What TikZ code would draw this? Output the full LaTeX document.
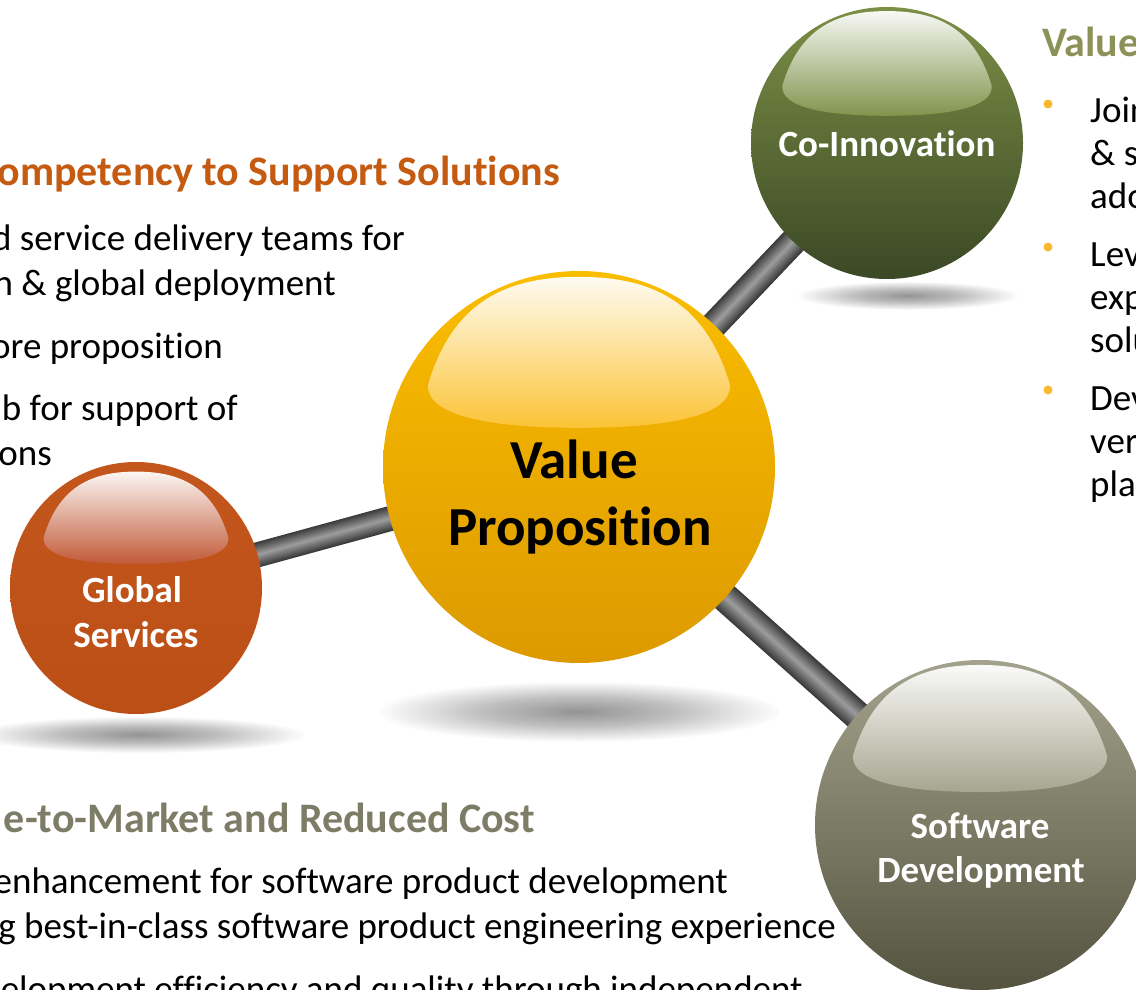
\documentclass[tikz,border=0pt]{standalone}
\usepackage{fontspec}
\setmainfont{Carlito}[Ligatures=NoCommon]
\definecolor{vpTop}{HTML}{FABD00}
\definecolor{vpBot}{HTML}{DC9A00}
\definecolor{vpHl}{HTML}{FDC53A}
\definecolor{coTop}{HTML}{7C8F46}
\definecolor{coBot}{HTML}{3B4825}
\definecolor{coHl}{HTML}{83964E}
\definecolor{gsTop}{HTML}{C2561C}
\definecolor{gsBot}{HTML}{BC4F15}
\definecolor{gsHl}{HTML}{C25A3A}
\definecolor{swTop}{HTML}{A3A38D}
\definecolor{swBot}{HTML}{53533F}
\definecolor{swHl}{HTML}{A8A892}
\definecolor{headOrange}{HTML}{C55A11}
\definecolor{headOlive}{HTML}{8B9157}
\definecolor{headGray}{HTML}{7D7D67}
\definecolor{bulletOrange}{HTML}{FBB931}
\definecolor{rodDark}{HTML}{3A3A3A}
\definecolor{rodLight}{HTML}{9A9A9A}
\newcommand{\hilite}[4]{%
  \shade[top color=white, bottom color=#4, opacity=0.95]
    ({#1-0.77*#3},{#2-0.42*#3})
    .. controls ({#1-0.64*#3},{#2-0.86*#3}) and ({#1-0.35*#3},{#2-0.97*#3}) .. ({#1},{#2-0.97*#3})
    .. controls ({#1+0.35*#3},{#2-0.97*#3}) and ({#1+0.64*#3},{#2-0.86*#3}) .. ({#1+0.77*#3},{#2-0.42*#3})
    .. controls ({#1+0.78*#3},{#2-0.26*#3}) and ({#1+0.45*#3},{#2-0.20*#3}) .. ({#1},{#2-0.20*#3})
    .. controls ({#1-0.45*#3},{#2-0.20*#3}) and ({#1-0.78*#3},{#2-0.26*#3}) .. cycle;}
\newcommand{\blurshadow}[4]{%
  \foreach \k in {1,...,30}{\fill[black, opacity=0.016] (#1,#2) ellipse ({#3*\k/30} and {#4*\k/30});}}
\newcommand{\rodline}[3]{%
  \foreach \k in {0,...,11}{%
    \pgfmathsetmacro\ww{#3*(1-\k/12)}%
    \pgfmathtruncatemacro\cc{\k*9}%
    \draw[line width=\ww pt, color=rodLight!\cc!rodDark] (#1) -- (#2);}}
\tikzset{
  sphere/.style={circle, inner sep=0pt, draw=none},
  lbl/.style={font=\bfseries\fontsize{37}{44}\selectfont, text=white, inner sep=0pt, anchor=base},
  vplbl/.style={font=\bfseries\fontsize{55}{66}\selectfont, text=black, inner sep=0pt, anchor=base},
  body/.style={font=\fontsize{37}{44}\selectfont, text=black, inner sep=0pt},
  head/.style={font=\bfseries\fontsize{42}{50}\selectfont, inner sep=0pt},
  bulletdot/.style={circle, fill=bulletOrange, inner sep=0pt, minimum size=9pt},
}
\begin{document}
\begin{tikzpicture}[x=1pt,y=-1pt]
\useasboundingbox (0,0) rectangle (1136,990);
\clip (0,0) rectangle (1136,990);
\fill[white] (0,0) rectangle (1136,990);

% centres
\coordinate (vpc) at (579,467);
\coordinate (coc) at (887,143);
\coordinate (gsc) at (136,588);
\coordinate (swc) at (980,825);

% shadows
\blurshadow{579}{712}{200}{30}
\blurshadow{908}{296}{110}{14}
\blurshadow{140}{735}{165}{18}

% rods
\rodline{vpc}{gsc}{25}
\rodline{vpc}{coc}{27}
\rodline{vpc}{swc}{29}

% spheres
\node[sphere, minimum size=392pt, top color=vpTop, bottom color=vpBot] (vp) at (vpc) {};
\node[sphere, minimum size=272pt, top color=coTop, bottom color=coBot] (co) at (coc) {};
\node[sphere, minimum size=252pt, top color=gsTop, bottom color=gsBot] (gs) at (gsc) {};
\node[sphere, minimum size=330pt, top color=swTop, bottom color=swBot] (sw) at (swc) {};

% highlights
\hilite{579}{467}{196}{vpHl}
\hilite{887}{143}{136}{coHl}
\hilite{136}{588}{120}{gsHl}
\hilite{980}{825}{165}{swHl}

% sphere labels
\node[vplbl] (vp1) at (574,478) {Value};
\node[vplbl] (vp2) at (580,545) {Proposition};
\node[lbl] (co1) at (887,157) {Co-Innovation};
\node[lbl] (gs1) at (132,602) {Global};
\node[lbl] (gs2) at (136,647) {Services};
\node[lbl] (sw1) at (980,838) {Software};
\node[lbl] (sw2) at (981,882) {Development};

% left block
\node[head, text=headOrange, anchor=base east] (lh) at (560,185) {ompetency to Support Solutions};
\node[body, anchor=base east] (l1) at (405,250) {d service delivery teams for};
\node[body, anchor=base east] (l2) at (336,295) {n \& global deployment};
\node[body, anchor=base east] (l3) at (223,358) {ore proposition};
\node[body, anchor=base east] (l4) at (238,420) {b for support of};
\node[body, anchor=base east] (l5) at (52,465) {ons};

% bottom block
\node[head, text=headGray, anchor=base east] (bh) at (535,832) {e-to-Market and Reduced Cost};
\node[body, anchor=base east] (b1) at (728,893) {enhancement for software product development};
\node[body, anchor=base east] (b2) at (836,938) {g best-in-class software product engineering experience};
\node[body, anchor=base east] (b3) at (803,1001) {elopment efficiency and quality through independent};

% right block
\node[head, text=headOlive, anchor=base west] (rh) at (1042,57) {Value};
\node[bulletdot] (d1) at (1048,104) {};
\node[bulletdot] (d2) at (1048,247) {};
\node[bulletdot] (d3) at (1048,390) {};
\node[body, anchor=base west] (r1) at (1090,122) {Join};
\node[body, anchor=base west] (r2) at (1090,165) {\& s};
\node[body, anchor=base west] (r3) at (1090,208) {ado};
\node[body, anchor=base west] (r4) at (1090,266) {Lev};
\node[body, anchor=base west] (r5) at (1090,309) {exp};
\node[body, anchor=base west] (r6) at (1090,352) {solu};
\node[body, anchor=base west] (r7) at (1090,410) {Dev};
\node[body, anchor=base west] (r8) at (1090,453) {ver};
\node[body, anchor=base west] (r9) at (1090,496) {pla};
\end{tikzpicture}
\end{document}
